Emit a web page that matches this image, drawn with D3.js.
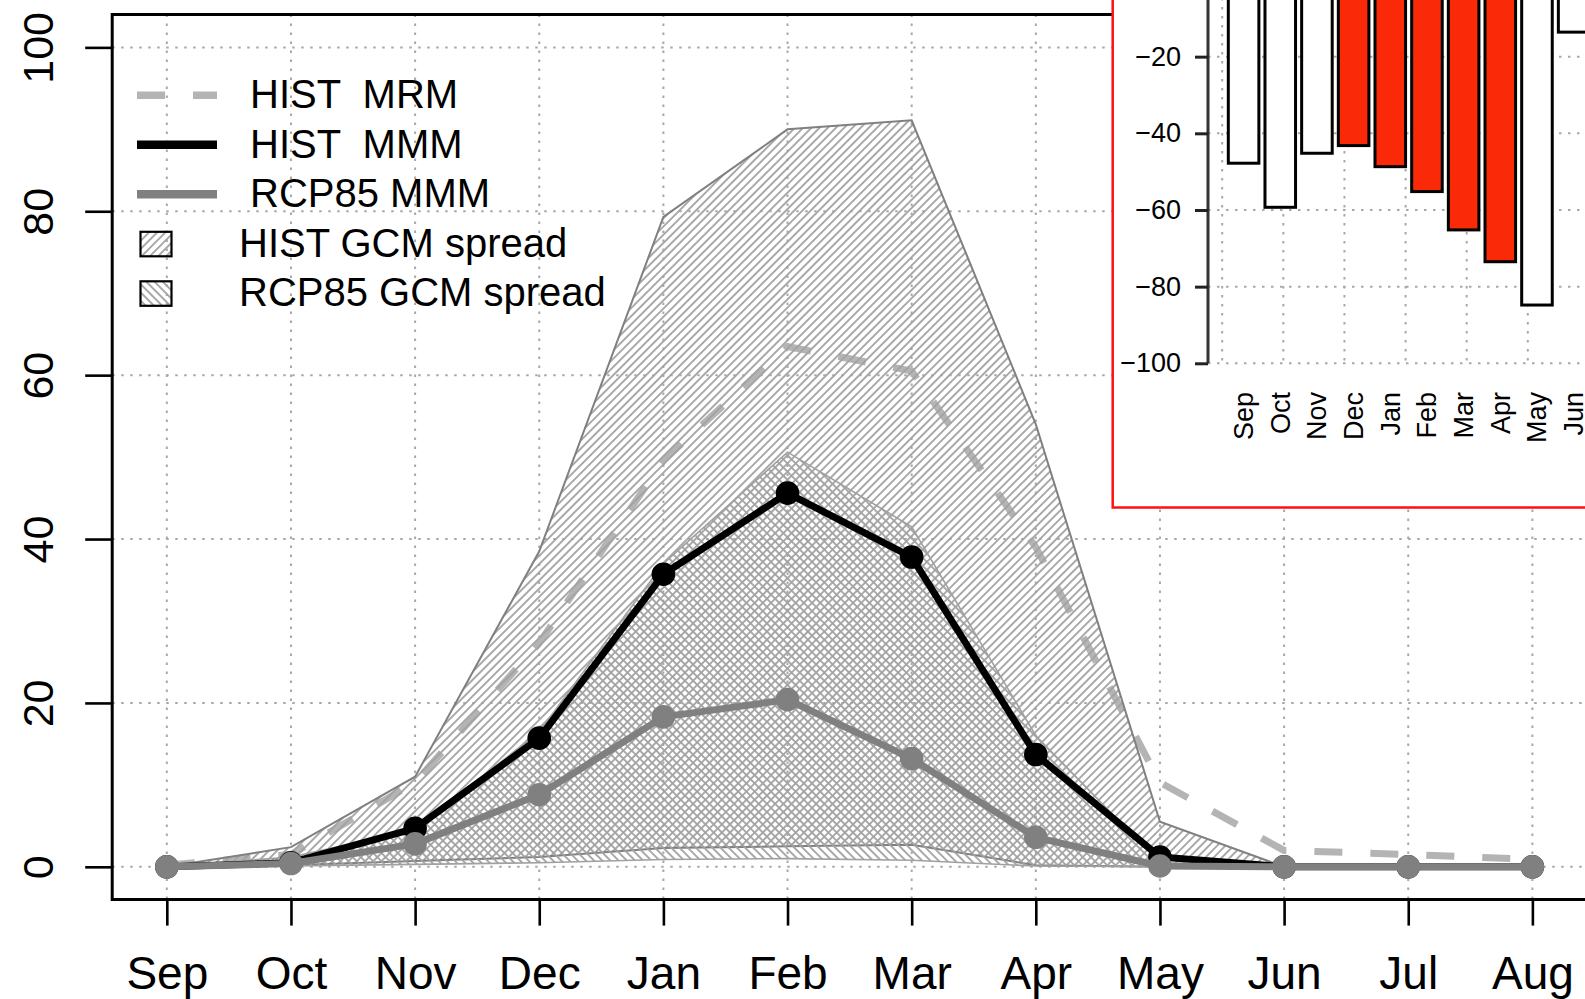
<!DOCTYPE html>
<html>
<head>
<meta charset="utf-8">
<script src="https://cdn.jsdelivr.net/npm/d3@7"></script>
<style>
  html, body { margin: 0; padding: 0; background: #fff; }
  svg { display: block; font-family: "Liberation Sans", Arial, Helvetica, sans-serif; }
</style>
</head>
<body>
<script>
// Monthly snow-related index: ensemble means and GCM spread, with a bar inset of relative change (%)
const months = ["Sep","Oct","Nov","Dec","Jan","Feb","Mar","Apr","May","Jun","Jul","Aug"];
const yTicks = [0, 20, 40, 60, 80, 100];

const histMRM = [0.2, 1.5, 10.3, 27.3, 49.6, 63.5, 60.5, 39.0, 10.3, 2.0, 1.5, 0.9];
const histMMM = [0, 0.5, 4.7, 15.7, 35.7, 45.6, 37.8, 13.7, 1.2, 0, 0, 0];
const rcpMMM  = [0, 0.4, 2.8, 8.8, 18.3, 20.4, 13.2, 3.6, 0.1, 0, 0, 0];

const histHi = [0, 2.4, 11.0, 38.5, 79.3, 90.0, 91.1, 54.0, 5.5, 0, 0, 0];
const histLo = [0, 0.2, 0.7, 1.2, 2.3, 2.5, 2.7, 0.2, 0, 0, 0, 0];
const rcpHi  = [0, 1.2, 4.5, 16.5, 37.0, 50.6, 41.5, 16.0, 0.5, 0, 0, 0];
const rcpLo  = [0, 0.1, 0.3, 0.5, 0.9, 1.0, 0.8, 0.1, 0, 0, 0, 0];

const legendLabels = ["HIST  MRM", "HIST  MMM", "RCP85 MMM", "HIST GCM spread", "RCP85 GCM spread"];

// inset: relative change (%) per month
const insetMonths = ["Sep","Oct","Nov","Dec","Jan","Feb","Mar","Apr","May","Jun"];
const insetChange = [-47.8, -59.3, -45.2, -43.2, -48.7, -55.2, -65.2, -73.5, -84.8, -13.6];
const insetSignif = [false, false, false, true, true, true, true, true, false, false];
const insetTicks = [-100, -80, -60, -40, -20];

const W = 1585, H = 999;
const svg = d3.select("body").append("svg").attr("width", W).attr("height", H);
svg.append("rect").attr("width", W).attr("height", H).attr("fill", "#fff");

// ---- hatch patterns
const defs = svg.append("defs");
function hatch(id, angle, sp, col, sw) {
  const p = defs.append("pattern").attr("id", id)
    .attr("patternUnits", "userSpaceOnUse")
    .attr("width", sp).attr("height", sp)
    .attr("patternTransform", `rotate(${angle})`);
  p.append("line").attr("x1", sp / 2).attr("x2", sp / 2).attr("y1", -1).attr("y2", sp + 1)
    .attr("stroke", col).attr("stroke-width", sw);
}
hatch("hatchHist", 45, 5.8, "#a2a2a2", 1.8);
hatch("hatchRcp", -45, 5.8, "#a2a2a2", 1.8);

// ---- main plot scales
const plotL = 112.2, plotR = 1587, plotT = 14.6, plotB = 899.6;
const x = d3.scaleLinear().domain([-0.44, 11.44]).range([plotL, plotR]);
const y = d3.scaleLinear().domain([-4, 104]).range([plotB, plotT]);
const idx = d3.range(months.length);

// grid
const grid = svg.append("g").attr("stroke", "#a8a8a8").attr("stroke-width", 2)
  .attr("stroke-dasharray", "2.5,6.5");
grid.selectAll(".gv").data(idx).join("line")
  .attr("x1", d => x(d)).attr("x2", d => x(d)).attr("y1", plotT).attr("y2", plotB);
grid.selectAll(".gh").data(yTicks).join("line")
  .attr("x1", plotL).attr("x2", plotR).attr("y1", d => y(d)).attr("y2", d => y(d));

const line = d3.line().x((d, i) => x(i)).y(d => y(d));
const band = (hi, lo) => d3.area().x((d, i) => x(i)).y0((d, i) => y(lo[i])).y1(d => y(d))(hi);

// regional-model mean (dashed)
svg.append("path").attr("d", line(histMRM)).attr("fill", "none")
  .attr("stroke", "#b4b4b4").attr("stroke-width", 7).attr("stroke-dasharray", "28,28");

// GCM spreads
svg.append("path").attr("d", band(histHi, histLo))
  .attr("fill", "url(#hatchHist)").attr("stroke", "#808080").attr("stroke-width", 2);
svg.append("path").attr("d", band(rcpHi, rcpLo))
  .attr("fill", "url(#hatchRcp)").attr("stroke", "#a0a0a0").attr("stroke-width", 1.6);

// multi-model means
function series(vals, col) {
  const g = svg.append("g");
  g.append("path").attr("d", line(vals)).attr("fill", "none")
    .attr("stroke", col).attr("stroke-width", 7).attr("stroke-linejoin", "round");
  g.selectAll("circle").data(vals).join("circle")
    .attr("cx", (d, i) => x(i)).attr("cy", d => y(d)).attr("r", 11.8).attr("fill", col);
}
series(histMMM, "#000");
series(rcpMMM, "#808080");

// frame
svg.append("path")
  .attr("d", `M${plotR},${plotT}H${plotL}V${plotB}H${plotR}`)
  .attr("fill", "none").attr("stroke", "#000").attr("stroke-width", 3);

// axes
const xAxis = svg.append("g").attr("transform", `translate(0,${plotB})`)
  .call(d3.axisBottom(x).tickValues(idx).tickFormat(i => months[i]).tickSize(26));
xAxis.select(".domain").remove();
xAxis.selectAll("line").attr("stroke", "#000").attr("stroke-width", 2.6);
xAxis.selectAll("text").attr("font-size", 46).attr("fill", "#000")
  .attr("font-family", "Liberation Sans, Arial, sans-serif")
  .attr("dy", null).attr("y", 89);

const yAxis = svg.append("g").attr("transform", `translate(${plotL},0)`)
  .call(d3.axisLeft(y).tickValues(yTicks).tickSize(27).tickFormat(d3.format("d")));
yAxis.select(".domain").remove();
yAxis.selectAll("line").attr("stroke", "#000").attr("stroke-width", 2.6);
yAxis.selectAll("text").attr("font-size", 43).attr("fill", "#000")
  .attr("font-family", "Liberation Sans, Arial, sans-serif")
  .attr("x", null).attr("dy", null).attr("text-anchor", "middle")
  .attr("transform", "translate(-59,0) rotate(-90)");

// legend
const lg = svg.append("g").attr("font-size", 40).attr("fill", "#000");
const rowY = i => 108.3 + i * 49.5;
const sampleStyles = [
  { col: "#b4b4b4", w: 7.5, dash: "28,28" },
  { col: "#000", w: 8.5, dash: null },
  { col: "#808080", w: 8.5, dash: null }
];
sampleStyles.forEach((s, i) => {
  lg.append("line").attr("x1", 137).attr("x2", 217).attr("y1", rowY(i) - 13).attr("y2", rowY(i) - 13)
    .attr("stroke", s.col).attr("stroke-width", s.w).attr("stroke-dasharray", s.dash);
  lg.append("text").attr("x", 250).attr("y", rowY(i)).text(legendLabels[i]).style("white-space", "pre");
});
["hatchHist", "hatchRcp"].forEach((pid, k) => {
  const i = k + 3;
  lg.append("rect").attr("x", 140.5).attr("y", rowY(i) - 25).attr("width", 31).attr("height", 24.5)
    .attr("fill", `url(#${pid})`).attr("stroke", "#000").attr("stroke-width", 2.2);
  lg.append("text").attr("x", 239).attr("y", rowY(i)).text(legendLabels[i]);
});

// ---- inset bar chart
const inset = svg.append("g");
inset.append("rect").attr("x", 1112.7).attr("y", -20).attr("width", 520).attr("height", 527.5)
  .attr("fill", "#fff").attr("stroke", "#ff1010").attr("stroke-width", 2.5);

const u = 30.56;
const xi = d3.scaleLinear().domain([0, 1]).range([1222.2, 1222.2 + u]);
const yi = d3.scaleLinear().domain([-100, 0]).range([363.3, -20]);
const iAxisX = 1208;

const ig = inset.append("g").attr("stroke", "#a8a8a8").attr("stroke-width", 2)
  .attr("stroke-dasharray", "2.5,6.5");
ig.selectAll(".v").data(d3.range(0, 14, 2)).join("line")
  .attr("x1", d => xi(d)).attr("x2", d => xi(d)).attr("y1", yi(0)).attr("y2", yi(-100));
ig.selectAll(".h").data(insetTicks).join("line")
  .attr("x1", iAxisX).attr("x2", 1600).attr("y1", d => yi(d)).attr("y2", d => yi(d));

inset.selectAll(".bar").data(insetChange).join("rect")
  .attr("x", (d, i) => xi(0.2 + 1.2 * i)).attr("width", u)
  .attr("y", yi(0)).attr("height", d => yi(d) - yi(0))
  .attr("fill", (d, i) => insetSignif[i] ? "#fa2a08" : "#fff")
  .attr("stroke", "#000").attr("stroke-width", 3);

const iy = inset.append("g").attr("transform", `translate(${iAxisX},0)`)
  .call(d3.axisLeft(yi).tickValues(insetTicks).tickSize(13).tickPadding(14)
    .tickFormat(d => d3.format("d")(d).replace("-", "\u2212")));
iy.select(".domain").attr("d", `M0,${yi(-100)}V${yi(0)}`).attr("stroke", "#333").attr("stroke-width", 3);
iy.selectAll("line").attr("stroke", "#222").attr("stroke-width", 3);
iy.selectAll("text").attr("font-size", 27).attr("fill", "#000")
  .attr("font-family", "Liberation Sans, Arial, sans-serif");

inset.selectAll(".ml").data(insetMonths).join("text")
  .attr("font-size", 27).attr("text-anchor", "end").attr("dy", "0.35em")
  .attr("transform", (d, i) => `translate(${xi(0.7 + 1.2 * i)},392) rotate(-90)`)
  .text(d => d);
</script>
</body>
</html>
